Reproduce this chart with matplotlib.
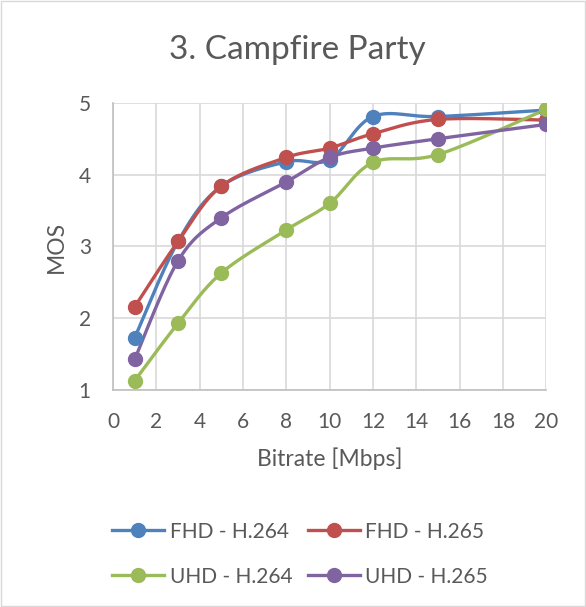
import numpy as np
import matplotlib
matplotlib.use("Agg")
import matplotlib.pyplot as plt
from matplotlib.patches import Rectangle

# Datos
bitrate = [1, 3, 5, 8, 10, 12, 15, 20]
fhd_h264 = [1.73, 3.07, 3.84, 4.18, 4.21, 4.81, 4.81, 4.90]
fhd_h265 = [2.16, 3.07, 3.84, 4.24, 4.37, 4.57, 4.77, 4.76]
uhd_h264 = [1.13, 1.93, 2.63, 3.23, 3.60, 4.17, 4.28, 4.91]
uhd_h265 = [1.43, 2.80, 3.40, 3.90, 4.24, 4.37, 4.50, 4.70]

series = [
    ("FHD - H.264", fhd_h264, "#4F81BD"),
    ("FHD - H.265", fhd_h265, "#C0504D"),
    ("UHD - H.264", uhd_h264, "#9BBB59"),
    ("UHD - H.265", uhd_h265, "#8064A2"),
]

x_ticks = list(range(0, 21, 2))
y_ticks = [1, 2, 3, 4, 5]


# Curva suavizada tipo Excel (Catmull-Rom) entre los puntos
def smooth(xs, ys, n=30):
    xs = np.asarray(xs, float)
    ys = np.asarray(ys, float)
    px = np.concatenate([[xs[0]], xs, [xs[-1]]])
    py = np.concatenate([[ys[0]], ys, [ys[-1]]])
    out_x, out_y = [], []
    for i in range(1, len(px) - 2):
        p0, p1, p2, p3 = [np.array([px[j], py[j]]) for j in (i - 1, i, i + 1, i + 2)]
        c1 = p1 + (p2 - p0) / 6
        c2 = p2 - (p3 - p1) / 6
        t = np.linspace(0, 1, n)[:, None]
        b = (1 - t) ** 3 * p1 + 3 * (1 - t) ** 2 * t * c1 + 3 * (1 - t) * t ** 2 * c2 + t ** 3 * p2
        out_x.extend(b[:, 0])
        out_y.extend(b[:, 1])
    return out_x, out_y


plt.rcParams["font.family"] = ["Lato", "DejaVu Sans"]
text_color = "#595959"

fig = plt.figure(figsize=(5.86, 6.07), dpi=100)
ax = fig.add_axes([0.193, 0.3575, 0.739, 0.473])

handles = []
for name, vals, color in series:
    sx, sy = smooth(bitrate, vals)
    ax.plot(sx, sy, color=color, linewidth=2.4, solid_capstyle="round", zorder=3)
    ax.plot(bitrate, vals, "o", color=color, markersize=10, zorder=4)
    h, = ax.plot([], [], color=color, linewidth=2.4, marker="o", markersize=10, label=name)
    handles.append(h)

ax.set_xlim(0, 20)
ax.set_ylim(1, 5)
ax.set_xticks(x_ticks)
ax.set_yticks(y_ticks)
ax.grid(True, color="#D9D9D9", linewidth=1.2)
ax.set_axisbelow(True)
for side in ["top", "right"]:
    ax.spines[side].set_visible(False)
for side in ["left", "bottom"]:
    ax.spines[side].set_color("#BFBFBF")
    ax.spines[side].set_linewidth(1.2)
ax.tick_params(length=0, labelsize=15, colors=text_color)
ax.tick_params(axis="x", pad=16)
ax.tick_params(axis="y", pad=16)

ax.set_xlabel("Bitrate [Mbps]", fontsize=16.5, color=text_color, labelpad=11)
# etiqueta del eje Y colocada a mano, más cerca de los números
fig.text(0.097, 0.593, "MOS", rotation=90, ha="center", va="center",
         fontsize=16.5, color=text_color)
fig.text(0.508, 0.918, "3. Campfire Party", ha="center", va="center",
         fontsize=24, color=text_color)

# orden por filas como en Excel
orden = [handles[0], handles[2], handles[1], handles[3]]
fig.legend(handles=orden, loc="center", bbox_to_anchor=(0.512, 0.087), ncol=2, frameon=False,
           fontsize=15, labelcolor=text_color, handlelength=2.5, handletextpad=0.25,
           columnspacing=0.75, labelspacing=1.2)

fig.add_artist(Rectangle((0.002, 0.002), 0.996, 0.996, transform=fig.transFigure,
                         fill=False, edgecolor="#D9D9D9", linewidth=1))

fig.savefig("out.png", dpi=100)
